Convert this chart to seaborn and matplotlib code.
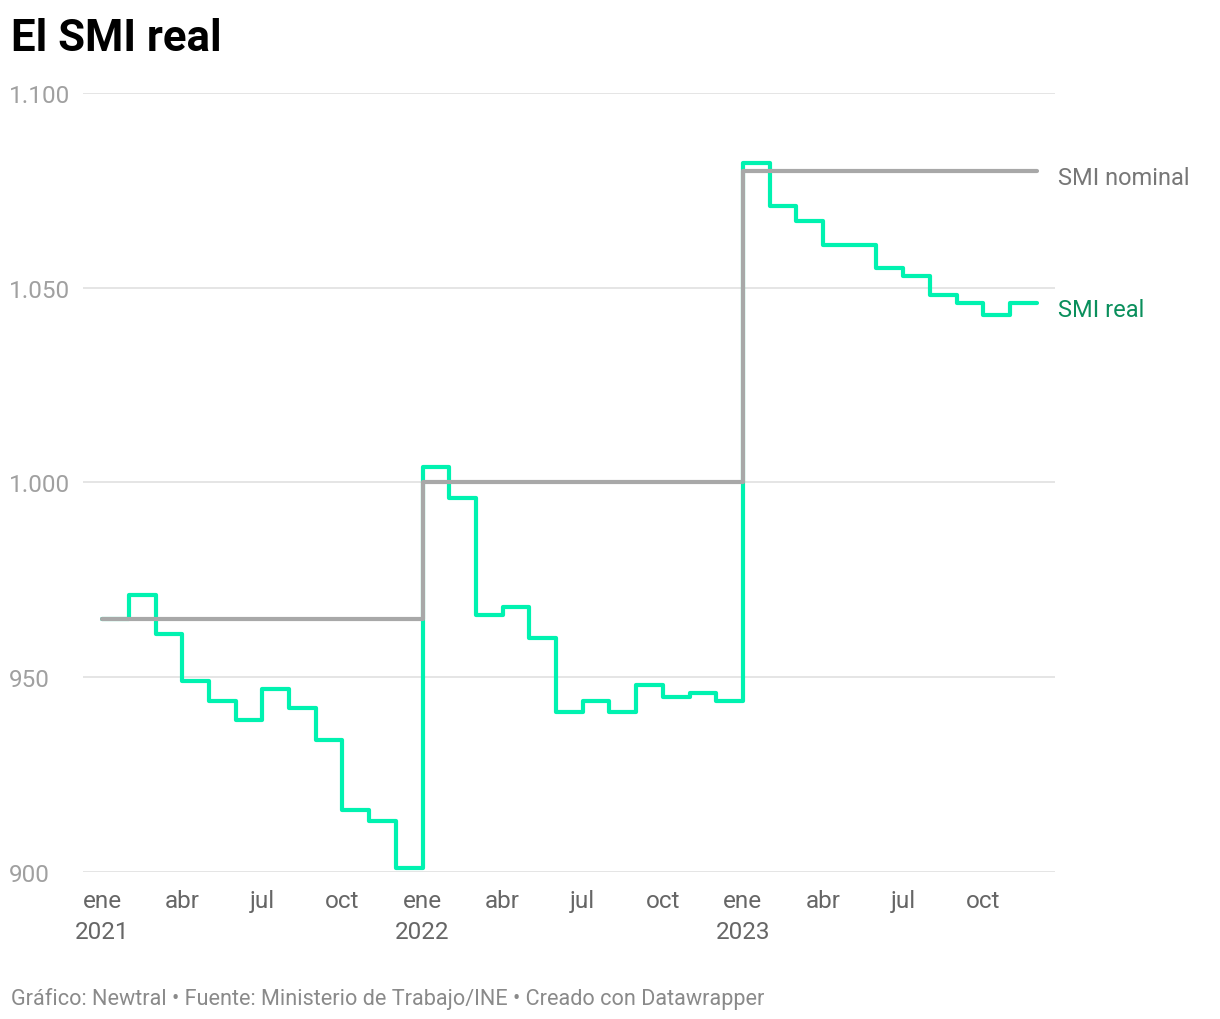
import numpy as np
import pandas as pd
import matplotlib
matplotlib.use("Agg")
import matplotlib.pyplot as plt
import seaborn as sns

# monthly values, ene 2021 .. dic 2023
meses = pd.date_range("2021-01-01", "2023-12-01", freq="MS")
smi_real = [965, 971, 961, 949, 944, 939, 947, 942, 934, 916, 913, 901,
            1004, 996, 966, 968, 960, 941, 944, 941, 948, 945, 946, 944,
            1082, 1071, 1067, 1061, 1061, 1055, 1053, 1048, 1046, 1043, 1046, 1046]
smi_nominal = [965] * 12 + [1000] * 12 + [1080] * 12

y_ticks = [900, 950, 1000, 1050, 1100]
y_labels = ["900", "950", "1.000", "1.050", "1.100"]
meses_abr = ["ene", "abr", "jul", "oct"]

df = pd.DataFrame({"mes": np.arange(len(meses)), "real": smi_real, "nominal": smi_nominal})

sns.set_theme(style="white")
plt.rcParams["font.family"] = ["Roboto", "DejaVu Sans"]

fig = plt.figure(figsize=(12.2, 10.2), dpi=100)
ax = fig.add_axes([0.068, 0.144, 0.797, 0.764])

sns.lineplot(data=df, x="mes", y="real", ax=ax, color="#00f2b0", linewidth=3,
             drawstyle="steps-post", zorder=3)
sns.lineplot(data=df, x="mes", y="nominal", ax=ax, color="#a8a8a8", linewidth=3,
             drawstyle="steps-post", zorder=4)

ax.set_ylim(900, 1100)
ax.set_xlim(-0.72, 35.7)
ax.set_yticks(y_ticks)
ax.set_yticklabels(y_labels)
ax.yaxis.grid(True, color="#e3e3e3", linewidth=1.3)
ax.set_axisbelow(True)

xt = list(range(0, 36, 3))
xl = []
for i in xt:
    m = meses[i]
    lab = meses_abr[(m.month - 1) // 3]
    if m.month == 1:
        lab = lab + "\n" + str(m.year)
    xl.append(lab)
ax.set_xticks(xt)
ax.set_xticklabels(xl, linespacing=1.45)
ax.tick_params(axis="x", colors="#666666", labelsize=17.5, length=0, pad=12)
ax.tick_params(axis="y", colors="#a0a0a0", labelsize=17.5, length=0, pad=4)
for lab in ax.get_yticklabels():
    lab.set_horizontalalignment("left")
    lab.set_x(-0.07)
ax.set_xlabel("")
ax.set_ylabel("")
sns.despine(ax=ax, left=True, bottom=True)

ax.annotate("SMI nominal", xy=(35.8, smi_nominal[-1]), xytext=(0, -3), textcoords="offset points",
            color="#777777", fontsize=17, va="center_baseline", annotation_clip=False)
ax.annotate("SMI real", xy=(35.8, smi_real[-1]), xytext=(0, -2.5), textcoords="offset points",
            color="#0a8f5c", fontsize=17, va="center_baseline", annotation_clip=False)

fig.text(0.009, 0.95, "El SMI real", fontsize=31.5, fontweight="bold", color="#000000")
fig.text(0.009, 0.015, "Gráfico: Newtral • Fuente: Ministerio de Trabajo/INE • Creado con Datawrapper",
         fontsize=15.6, color="#8a8a8a")

fig.savefig("out.png", dpi=100)
